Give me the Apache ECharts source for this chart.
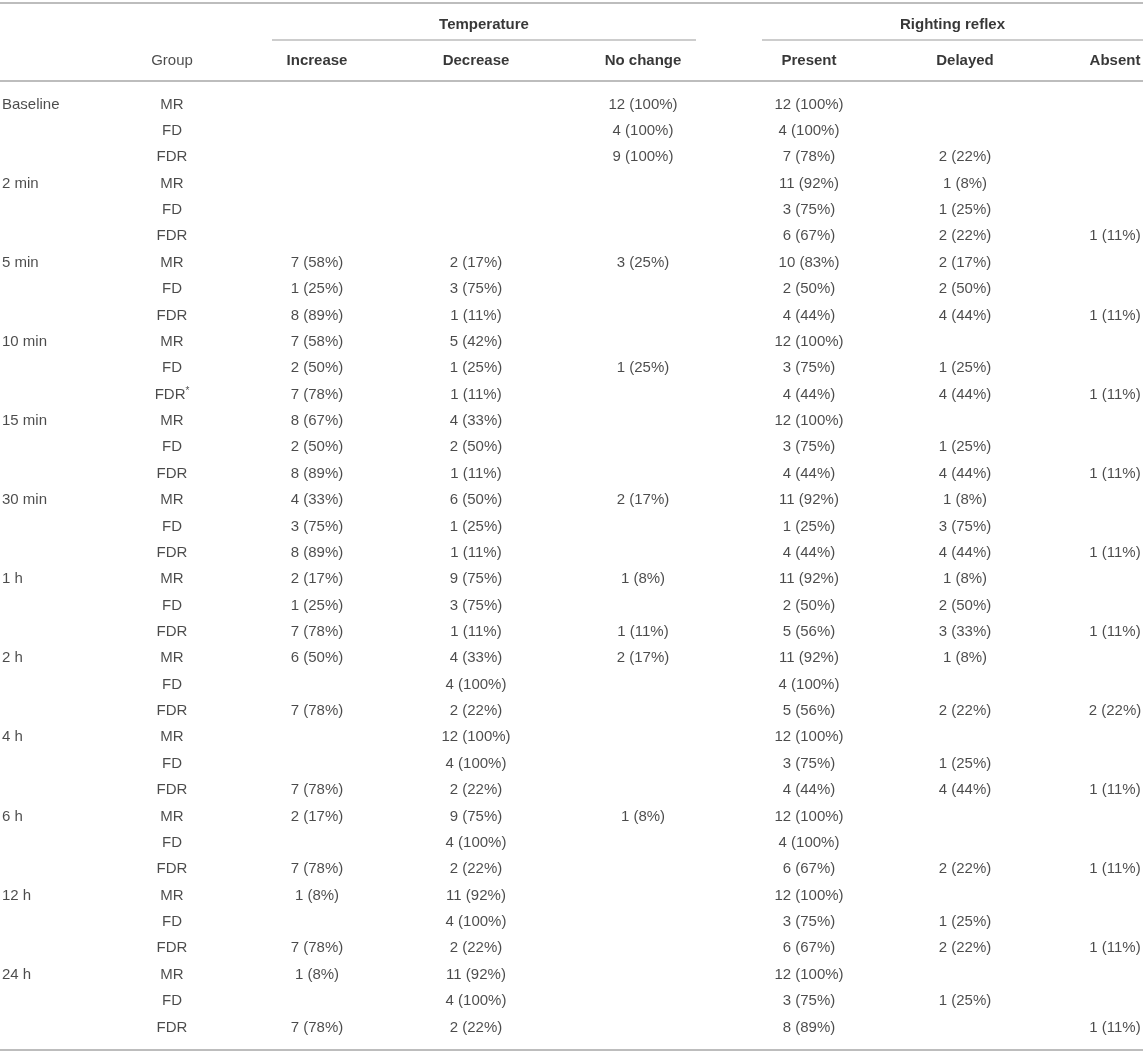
<!DOCTYPE html>
<html>
<head>
<meta charset="utf-8">
<script src="https://cdn.jsdelivr.net/npm/echarts@6.0.0/dist/echarts.min.js"></script>
<style>
  html, body { margin: 0; padding: 0; background: #fff; }
  #table { width: 1143px; height: 1052px; }
</style>
</head>
<body>
<div id="table"></div>
<script>
// table content
const timepoints = ['Baseline', '2 min', '5 min', '10 min', '15 min', '30 min', '1 h', '2 h', '4 h', '6 h', '12 h', '24 h'];
const groupNames = ['MR', 'FD', 'FDR'];
const spanTitles = ['Temperature', 'Righting reflex'];
const columnTitles = ['Increase', 'Decrease', 'No change', 'Present', 'Delayed', 'Absent'];

// one entry per row (MR, FD, FDR for every time point)
const increase = [
  '', '', '',
  '', '', '',
  '7 (58%)', '1 (25%)', '8 (89%)',
  '7 (58%)', '2 (50%)', '7 (78%)',
  '8 (67%)', '2 (50%)', '8 (89%)',
  '4 (33%)', '3 (75%)', '8 (89%)',
  '2 (17%)', '1 (25%)', '7 (78%)',
  '6 (50%)', '', '7 (78%)',
  '', '', '7 (78%)',
  '2 (17%)', '', '7 (78%)',
  '1 (8%)', '', '7 (78%)',
  '1 (8%)', '', '7 (78%)'
];
const decrease = [
  '', '', '',
  '', '', '',
  '2 (17%)', '3 (75%)', '1 (11%)',
  '5 (42%)', '1 (25%)', '1 (11%)',
  '4 (33%)', '2 (50%)', '1 (11%)',
  '6 (50%)', '1 (25%)', '1 (11%)',
  '9 (75%)', '3 (75%)', '1 (11%)',
  '4 (33%)', '4 (100%)', '2 (22%)',
  '12 (100%)', '4 (100%)', '2 (22%)',
  '9 (75%)', '4 (100%)', '2 (22%)',
  '11 (92%)', '4 (100%)', '2 (22%)',
  '11 (92%)', '4 (100%)', '2 (22%)'
];
const noChange = [
  '12 (100%)', '4 (100%)', '9 (100%)',
  '', '', '',
  '3 (25%)', '', '',
  '', '1 (25%)', '',
  '', '', '',
  '2 (17%)', '', '',
  '1 (8%)', '', '1 (11%)',
  '2 (17%)', '', '',
  '', '', '',
  '1 (8%)', '', '',
  '', '', '',
  '', '', ''
];
const present = [
  '12 (100%)', '4 (100%)', '7 (78%)',
  '11 (92%)', '3 (75%)', '6 (67%)',
  '10 (83%)', '2 (50%)', '4 (44%)',
  '12 (100%)', '3 (75%)', '4 (44%)',
  '12 (100%)', '3 (75%)', '4 (44%)',
  '11 (92%)', '1 (25%)', '4 (44%)',
  '11 (92%)', '2 (50%)', '5 (56%)',
  '11 (92%)', '4 (100%)', '5 (56%)',
  '12 (100%)', '3 (75%)', '4 (44%)',
  '12 (100%)', '4 (100%)', '6 (67%)',
  '12 (100%)', '3 (75%)', '6 (67%)',
  '12 (100%)', '3 (75%)', '8 (89%)'
];
const delayed = [
  '', '', '2 (22%)',
  '1 (8%)', '1 (25%)', '2 (22%)',
  '2 (17%)', '2 (50%)', '4 (44%)',
  '', '1 (25%)', '4 (44%)',
  '', '1 (25%)', '4 (44%)',
  '1 (8%)', '3 (75%)', '4 (44%)',
  '1 (8%)', '2 (50%)', '3 (33%)',
  '1 (8%)', '', '2 (22%)',
  '', '1 (25%)', '4 (44%)',
  '', '', '2 (22%)',
  '', '1 (25%)', '2 (22%)',
  '', '1 (25%)', ''
];
const absent = [
  '', '', '',
  '', '', '1 (11%)',
  '', '', '1 (11%)',
  '', '', '1 (11%)',
  '', '', '1 (11%)',
  '', '', '1 (11%)',
  '', '', '1 (11%)',
  '', '', '2 (22%)',
  '', '', '1 (11%)',
  '', '', '1 (11%)',
  '', '', '1 (11%)',
  '', '', '1 (11%)'
];
// footnote mark on the 10 min FDR row
const flaggedRow = 11;

// layout
const W = 1143;
const colX = { time: 2, group: 172, increase: 317, decrease: 476, noChange: 643, present: 809, delayed: 965, absent: 1115 };
const spanRange = [[272, 696], [762, 1143]];
const ruleColor = '#bdbdbd';
const textColor = '#1e1e1e';
const headColor = '#050505';
const font = '"Liberation Sans", Arial, Helvetica, sans-serif';

const rowIds = [];
const timeCol = [];
const groupCol = [];
timepoints.forEach(function (t) {
  groupNames.forEach(function (g, j) {
    rowIds.push(t + ' ' + g);
    timeCol.push(j === 0 ? t : '');
    groupCol.push(g);
  });
});
groupCol[flaggedRow] = groupCol[flaggedRow] + '*';

function textSeries(gridIdx, x, texts, align, bold) {
  const data = [];
  texts.forEach(function (t, i) {
    if (t) data.push([x, i, t]);
  });
  return {
    type: 'scatter',
    xAxisIndex: gridIdx,
    yAxisIndex: gridIdx,
    symbolSize: 1,
    itemStyle: { color: 'rgba(0,0,0,0)' },
    silent: true,
    data: data,
    label: {
      show: true,
      position: 'inside',
      align: align,
      verticalAlign: 'middle',
      fontFamily: font,
      fontSize: 15,
      fontWeight: bold ? 'bold' : 'normal',
      color: bold ? headColor : textColor,
      formatter: function (p) {
        return String(p.value[2]).replace('*', '{sup|*}');
      },
      rich: {
        sup: { fontSize: 10, fontFamily: font, color: textColor, padding: [0, 0, 7, 0] }
      }
    }
  };
}

const bodyCols = [
  [colX.increase, increase],
  [colX.decrease, decrease],
  [colX.noChange, noChange],
  [colX.present, present],
  [colX.delayed, delayed],
  [colX.absent, absent]
];

const series = [
  textSeries(0, colX.time, timeCol, 'left', false),
  textSeries(0, colX.group, groupCol, 'center', false)
];
bodyCols.forEach(function (c) {
  series.push(textSeries(0, c[0], c[1], 'center', false));
});

// header rows: 0 = span titles, 1 = column titles
const spanX = spanRange.map(function (r) { return (r[0] + r[1]) / 2; });
spanTitles.forEach(function (t, i) {
  series.push(textSeries(1, spanX[i], [t, ''], 'center', true));
});
series.push(textSeries(1, colX.group, ['', 'Group'], 'center', false));
columnTitles.forEach(function (t, i) {
  series.push(textSeries(1, bodyCols[i][0], ['', t], 'center', true));
});

function rule(x1, x2, y, w) {
  return {
    type: 'line',
    silent: true,
    shape: { x1: x1, y1: y, x2: x2, y2: y },
    style: { stroke: ruleColor, lineWidth: w }
  };
}

const chart = echarts.init(document.getElementById('table'), null, { renderer: 'canvas' });
chart.setOption({
  animation: false,
  backgroundColor: '#fff',
  grid: [
    { left: 0, right: 0, top: 91.3, height: 949.3 },
    { left: 0, right: 0, top: 6.5, height: 72 }
  ],
  xAxis: [
    { type: 'value', gridIndex: 0, min: 0, max: W, show: false },
    { type: 'value', gridIndex: 1, min: 0, max: W, show: false }
  ],
  yAxis: [
    { type: 'category', gridIndex: 0, data: rowIds, inverse: true, show: false },
    { type: 'category', gridIndex: 1, data: ['span', 'column'], inverse: true, show: false }
  ],
  graphic: [
    rule(0, W, 3, 2),
    rule(spanRange[0][0], spanRange[0][1], 40, 1.5),
    rule(spanRange[1][0], spanRange[1][1], 40, 1.5),
    rule(0, W, 81, 2),
    rule(0, W, 1050, 2)
  ],
  series: series
});

window.addEventListener('resize', function () {
  chart.resize();
});
</script>
</body>
</html>
